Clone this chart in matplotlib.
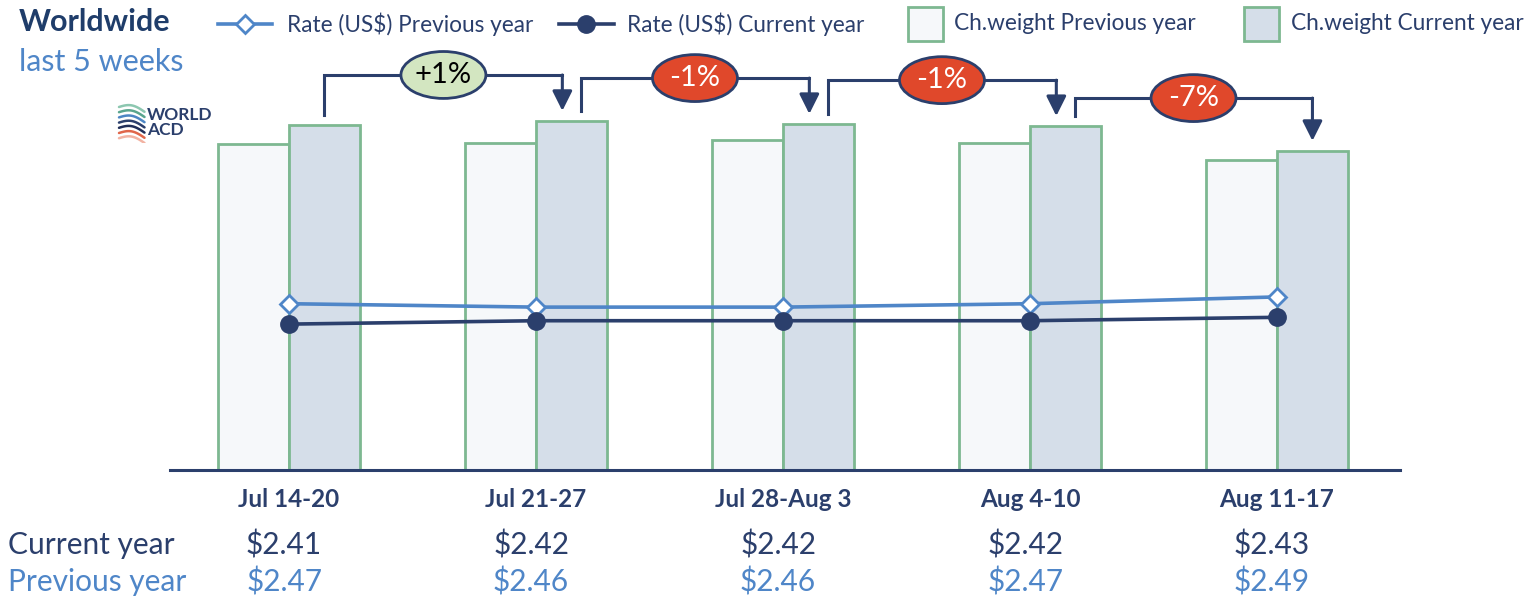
import numpy as np
import matplotlib
matplotlib.use("Agg")
import matplotlib.pyplot as plt
from matplotlib.patches import Ellipse, Rectangle
from matplotlib.lines import Line2D
import matplotlib.transforms as mtransforms

plt.rcParams['font.family'] = ['Lato', 'DejaVu Sans']

# data
weeks = ["Jul 14-20", "Jul 21-27", "Jul 28-Aug 3", "Aug 4-10", "Aug 11-17"]
weight_prev = [94.5, 94.8, 95.7, 94.8, 89.9]     # chargeable weight index, previous year
weight_cur = [100.0, 101.2, 100.3, 99.7, 92.5]   # chargeable weight index, current year
rate_cur = [2.41, 2.42, 2.42, 2.42, 2.43]
rate_prev = [2.47, 2.46, 2.46, 2.47, 2.49]

NAVY = "#2b3f6c"
LIGHT_BLUE = "#4f86c8"
GREEN_EDGE = "#7db891"
PREV_FILL = "#f6f8fa"
CUR_FILL = "#d5dee9"
TITLE_NAVY = "#1f3d6a"

W, H = 1536, 602
fig = plt.figure(figsize=(W / 100, H / 100), dpi=100)
fig.patch.set_facecolor("white")

# main axes (pixel layout of the reference)
ax = fig.add_axes([170 / W, (H - 470) / H, 1230 / W, 379.5 / H])
ax.set_xlim(-0.482, 4.498)
ax.set_ylim(0, 110)
x = np.arange(len(weeks))
bw = 0.287

ax.bar(x - bw / 2, weight_prev, bw, color=PREV_FILL, edgecolor=GREEN_EDGE, linewidth=2, zorder=2)
ax.bar(x + bw / 2, weight_cur, bw, color=CUR_FILL, edgecolor=GREEN_EDGE, linewidth=2, zorder=2)

for s in ["top", "right", "left"]:
    ax.spines[s].set_visible(False)
ax.spines["bottom"].set_color(NAVY)
ax.spines["bottom"].set_linewidth(2.2)
ax.spines["bottom"].set_zorder(5)
ax.set_yticks([])
ax.set_xticks(x)
ax.set_xticklabels(weeks, fontsize=17.5, fontweight="bold", color=NAVY)
ax.tick_params(axis="x", length=0, pad=13)

# rates on a hidden second axis
ax2 = ax.twinx()
ax2.set_ylim(1.981, 3.097)
ax2.axis("off")
ax2.plot(x, rate_prev, color=LIGHT_BLUE, lw=2.6, marker="D", ms=9.5,
         mfc="white", mec=LIGHT_BLUE, mew=2, zorder=4)
ax2.plot(x, rate_cur, color=NAVY, lw=2.6, marker="o", ms=12.5,
         mfc=NAVY, mec=NAVY, zorder=4)

# week-over-week change brackets
bracket_top = [114.5, 113.6, 113.0, 107.8]
gap = 2.9
off = 0.037
for i in range(len(weeks) - 1):
    xs = i + bw / 2 + (off if i > 0 else 0)
    xe = i + 1 + bw / 2 - (off if i + 1 < len(weeks) - 1 else 0)
    yt = bracket_top[i]
    ax.plot([xs, xs, xe], [weight_cur[i] + gap, yt, yt], color=NAVY, lw=2.2,
            solid_joinstyle="miter", clip_on=False, zorder=6)
    ax.annotate("", xy=(xe, weight_cur[i + 1] + gap), xytext=(xe, yt),
                arrowprops=dict(arrowstyle="-|>,head_length=0.6,head_width=0.3",
                                color=NAVY, lw=2.2, shrinkA=0, shrinkB=0,
                                mutation_scale=20),
                annotation_clip=False, zorder=6)
    pct = round((weight_cur[i + 1] / weight_cur[i] - 1) * 100)
    fc = "#d3e6c1" if pct >= 0 else "#e0482b"
    tc = "black" if pct >= 0 else "white"
    xm = (xs + xe) / 2
    ax.add_patch(Ellipse((xm, yt), 0.344, 13.6, facecolor=fc, edgecolor=NAVY,
                         lw=2, clip_on=False, zorder=7))
    ax.text(xm, yt, f"{pct:+d}%", ha="center", va="center", fontsize=21,
            color=tc, zorder=8, clip_on=False)

# rate table under the chart
trans = mtransforms.blended_transform_factory(ax.transData, fig.transFigure)
for i in range(len(weeks)):
    ax.text(i - 0.02, 1 - 545 / H, f"${rate_cur[i]:.2f}", transform=trans, ha="center",
            va="center", fontsize=21.5, color=NAVY)
    ax.text(i - 0.02, 1 - 582 / H, f"${rate_prev[i]:.2f}", transform=trans, ha="center",
            va="center", fontsize=21.5, color=LIGHT_BLUE)
fig.text(8 / W, 1 - 545 / H, "Current year", ha="left", va="center", fontsize=21.5, color=NAVY)
fig.text(8 / W, 1 - 582 / H, "Previous year", ha="left", va="center", fontsize=21.5, color=LIGHT_BLUE)

# title
fig.text(19 / W, 1 - 22 / H, "Worldwide", ha="left", va="center", fontsize=22,
         fontweight="bold", color=TITLE_NAVY)
fig.text(19 / W, 1 - 62 / H, "last 5 weeks", ha="left", va="center", fontsize=22,
         color=LIGHT_BLUE)

# legend, laid out by hand
ly = 1 - 24 / H
fs_leg = 16.3
fig.add_artist(Line2D([218 / W, 272 / W], [ly, ly], color=LIGHT_BLUE, lw=2.6,
                      transform=fig.transFigure))
fig.add_artist(Line2D([245 / W], [ly], marker="D", ms=9.5, mfc="white", mec=LIGHT_BLUE,
                      mew=2, transform=fig.transFigure))
fig.text(287 / W, ly, "Rate (US$) Previous year", ha="left", va="center", fontsize=fs_leg, color=NAVY)
fig.add_artist(Line2D([559 / W, 614 / W], [ly, ly], color=NAVY, lw=2.6,
                      transform=fig.transFigure))
fig.add_artist(Line2D([586 / W], [ly], marker="o", ms=12.5, color=NAVY,
                      transform=fig.transFigure))
fig.text(627 / W, ly, "Rate (US$) Current year", ha="left", va="center", fontsize=fs_leg, color=NAVY)
fig.add_artist(Rectangle((908 / W, 1 - 41 / H), 35 / W, 34 / H, facecolor=PREV_FILL,
                         edgecolor=GREEN_EDGE, lw=2, transform=fig.transFigure))
fig.text(954 / W, ly, "Ch.weight Previous year", ha="left", va="center", fontsize=fs_leg, color=NAVY)
fig.add_artist(Rectangle((1244 / W, 1 - 41 / H), 35 / W, 34 / H, facecolor=CUR_FILL,
                         edgecolor=GREEN_EDGE, lw=2, transform=fig.transFigure))
fig.text(1291 / W, ly, "Ch.weight Current year", ha="left", va="center", fontsize=fs_leg, color=NAVY)

# WORLD ACD logo
lax = fig.add_axes([116 / W, 1 - 143 / H, 30 / W, 40 / H])
lax.set_xlim(0, 1)
lax.set_ylim(0, 1)
lax.axis("off")
t = np.linspace(0, 1, 30)
for k, c in enumerate(["#8cc7b0", "#5aa58e", "#4d86c4", "#2b3f6c", "#1f2d57", "#e0664a", "#f2b3a3"]):
    y0 = 0.9 - k * 0.13
    lax.plot(0.1 + 0.85 * t, y0 + 0.1 * np.sin(np.pi * t) - 0.12 * t, color=c, lw=1.8,
             solid_capstyle="round")
fig.text(147 / W, 1 - 115 / H, "WORLD", ha="left", va="center", fontsize=12.5,
         fontweight="bold", color=NAVY)
fig.text(147 / W, 1 - 130 / H, "ACD", ha="left", va="center", fontsize=12.5,
         fontweight="bold", color=NAVY)

fig.savefig("out.png", dpi=100)
